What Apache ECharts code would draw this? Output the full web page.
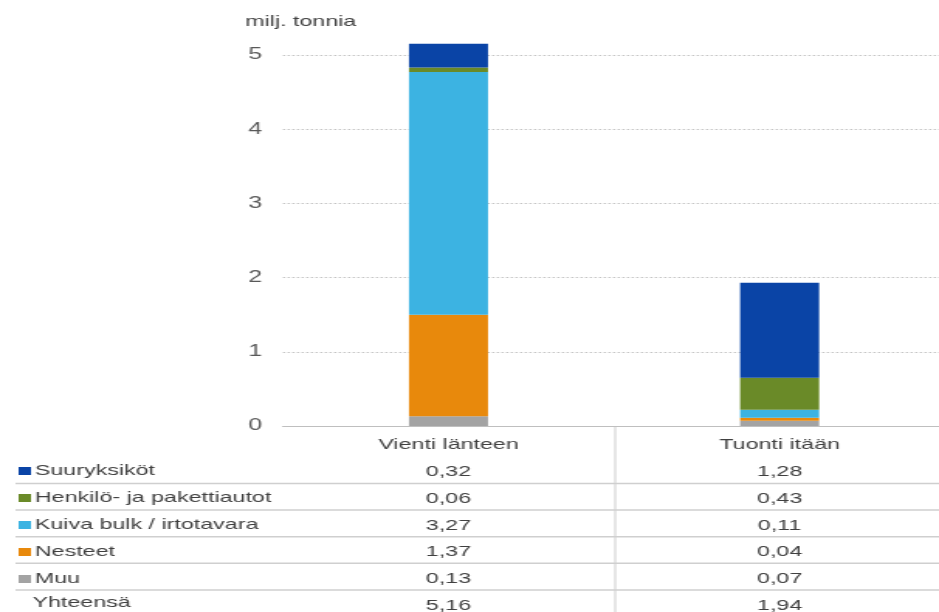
<!DOCTYPE html>
<html>
<head>
<meta charset="utf-8">
<script src="https://cdn.jsdelivr.net/npm/echarts@6/dist/echarts.min.js"></script>
<style>
  html, body { margin: 0; padding: 0; background: #fff; overflow: hidden; }
  /* the reference picture is stretched sideways, so the chart is drawn narrow and widened */
  #chart { width: 606px; height: 612px; transform: scaleX(1.5495); transform-origin: 0 0; }
</style>
</head>
<body>
<div id="chart"></div>
<script>
const categories = ['Vienti länteen', 'Tuonti itään']
const suuryksikot = [0.32, 1.28]
const henkiloautot = [0.06, 0.43]
const kuivaBulk = [3.27, 0.11]
const nesteet = [1.37, 0.04]
const muu = [0.13, 0.07]
const yhteensa = [5.16, 1.94]
const yTicks = [0, 1, 2, 3, 4, 5]

const font = '"Liberation Sans", Arial, sans-serif'
const textColor = '#404040'

// stacking order: bottom first
const rows = [
  { name: 'Muu', data: muu, color: '#a3a3a3' },
  { name: 'Nesteet', data: nesteet, color: '#e8890c' },
  { name: 'Kuiva bulk / irtotavara', data: kuivaBulk, color: '#3cb3e2' },
  { name: 'Henkilö- ja pakettiautot', data: henkiloautot, color: '#6a8a28' },
  { name: 'Suuryksiköt', data: suuryksikot, color: '#0a44a6' }
]
const tableRows = rows.slice().reverse()

const fmt = (v) => v.toFixed(2).replace('.', ',')

const chart = echarts.init(document.getElementById('chart'))

// table borders
const graphic = [{
  type: 'line',
  shape: { x1: 397, y1: 426, x2: 397, y2: 612 },
  style: { stroke: '#bfbfbf', lineWidth: 0.8 },
  silent: true
}]
for (let i = 0; i < tableRows.length; i++) {
  const y = 483.5 + i * 26.6
  graphic.push({
    type: 'line',
    shape: { x1: 10, y1: y, x2: 606, y2: y },
    style: { stroke: '#cfcfcf', lineWidth: 1.5 },
    silent: true
  })
}

const option = {
  animation: false,
  textStyle: { fontFamily: font },
  title: {
    text: 'Yhteensä',
    left: 21,
    top: 595,
    padding: 0,
    textStyle: { fontSize: 15, fontWeight: 'normal', color: textColor, fontFamily: font, lineHeight: 16 }
  },
  legend: {
    orient: 'vertical',
    left: 12,
    top: 463,
    padding: 0,
    itemGap: 11,
    itemWidth: 8,
    itemHeight: 8,
    icon: 'rect',
    data: tableRows.map((r) => r.name),
    textStyle: { fontSize: 15, color: textColor, fontFamily: font, lineHeight: 16, padding: [0, 0, 0, -2.5] }
  },
  grid: {
    left: 182.6,
    right: -4,
    top: 55,
    bottom: 186,
    outerBoundsMode: 'none'
  },
  xAxis: {
    type: 'category',
    data: categories,
    axisLine: { lineStyle: { color: '#bfbfbf', width: 1.2 } },
    axisTick: { show: false },
    axisLabel: {
      margin: 6,
      fontSize: 15,
      color: textColor,
      fontFamily: font,
      lineHeight: 26.7,
      formatter: (value, idx) =>
        [value].concat(tableRows.map((r) => fmt(r.data[idx])), [fmt(yhteensa[idx])]).join('\n')
    }
  },
  yAxis: {
    type: 'value',
    min: yTicks[0],
    max: yTicks[yTicks.length - 1],
    interval: 1,
    name: 'milj. tonnia',
    nameLocation: 'end',
    nameGap: 26,
    nameTextStyle: { fontSize: 15, color: textColor, fontFamily: font, padding: [0, 0, 0, 23] },
    axisLine: { show: false },
    axisTick: { show: false },
    axisLabel: { margin: 13.5, fontSize: 16, color: '#595959', fontFamily: font },
    splitLine: { lineStyle: { color: '#c4c4c4', type: [1.5, 1.5], width: 1 } }
  },
  series: rows.map((r) => ({
    name: r.name,
    type: 'bar',
    stack: 'total',
    barWidth: 51,
    clip: false,
    itemStyle: { color: r.color },
    data: r.data
  })),
  graphic: graphic
}

chart.setOption(option)
</script>
</body>
</html>
